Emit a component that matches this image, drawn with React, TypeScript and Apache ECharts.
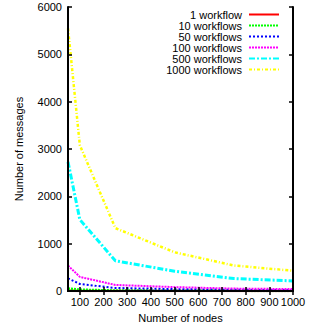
import React, { useEffect, useRef } from "react";
import * as echarts from "echarts";

const nodes = [50, 100, 250, 500, 750, 1000];
const seriesNames = ["1 workflow", "10 workflows", "50 workflows", "100 workflows", "500 workflows", "1000 workflows"];
const wf1 = [5, 3, 1.3, 0.8, 0.5, 0.4];
const wf10 = [55, 30, 13, 8, 5, 4];
const wf50 = [270, 150, 66, 42, 27, 22];
const wf100 = [540, 300, 130, 84, 53, 43];
const wf500 = [2730, 1510, 640, 420, 265, 215];
const wf1000 = [5550, 3080, 1330, 820, 540, 430];
const xTicks = [100, 200, 300, 400, 500, 600, 700, 800, 900, 1000];

const colors = ["#ff0000", "#00ff00", "#0000ff", "#ff00ff", "#00ffff", "#ffff00"];
const dashes: any[] = ["solid", [2, 1], [2, 2], [2, 1], [6, 2, 2, 2], [3, 2, 1, 2]];
const widths = [2.5, 2.5, 2, 2, 3, 2.5];
const values = [wf1, wf10, wf50, wf100, wf500, wf1000];

const FONT = "'Liberation Sans', Arial, sans-serif";
const FS = 11;

export default function App() {
  const ref = useRef<HTMLDivElement>(null);
  useEffect(() => {
    const chart = echarts.init(ref.current!, null, { renderer: "svg" });
    const axisLine = { show: true, lineStyle: { color: "#000", width: 2 } };
    const tickIn = { show: true, inside: true, length: 4, lineStyle: { color: "#000", width: 1.5 } };
    const fmt = (v: number) => String(v);
    chart.setOption({
      animation: false,
      grid: { left: 68, right: 19, top: 7, bottom: 36 },
      legend: {
        orient: "vertical",
        right: 32,
        top: 9,
        padding: 0,
        align: "right",
        itemWidth: 30,
        itemHeight: 11,
        itemGap: 0,
        itemStyle: { opacity: 0 },
        data: seriesNames.map((n) => ({ name: n })),
        formatter: (n: string) => `{a|${n}}`,
        textStyle: {
          rich: {
            a: { width: 110, align: "right", fontSize: FS, lineHeight: 11, fontFamily: FONT, color: "#000", padding: [0, 2, 0, 0] },
          },
        },
      },
      xAxis: [
        {
          type: "value",
          min: 50,
          max: 1000,
          z: 5,
          name: "Number of nodes",
          nameLocation: "middle",
          nameGap: 19,
          nameTextStyle: { fontSize: FS, fontFamily: FONT, color: "#000" },
          axisLine,
          axisTick: { ...tickIn, customValues: xTicks },
          axisLabel: { customValues: xTicks, fontSize: FS, fontFamily: FONT, color: "#000", margin: 5, formatter: fmt },
          splitLine: { show: false },
        },
        {
          type: "value",
          position: "top",
          min: 50,
          max: 1000,
          z: 5,
          axisLine,
          axisTick: { ...tickIn, customValues: xTicks },
          axisLabel: { show: false },
          splitLine: { show: false },
        },
      ],
      yAxis: [
        {
          type: "value",
          min: 0,
          max: 6000,
          interval: 1000,
          z: 5,
          name: "Number of messages",
          nameLocation: "middle",
          nameGap: 44,
          nameTextStyle: { fontSize: FS, fontFamily: FONT, color: "#000" },
          axisLine,
          axisTick: tickIn,
          axisLabel: { fontSize: FS, fontFamily: FONT, color: "#000", margin: 6, formatter: fmt },
          splitLine: { show: false },
        },
        {
          type: "value",
          position: "right",
          min: 0,
          max: 6000,
          interval: 1000,
          z: 5,
          axisLine,
          axisTick: tickIn,
          axisLabel: { show: false },
          splitLine: { show: false },
        },
      ],
      series: seriesNames.map((name, i) => ({
        name,
        type: "line",
        data: nodes.map((x, j) => [x, values[i][j]]),
        showSymbol: false,
        symbol: "none",
        color: colors[i],
        lineStyle: { color: colors[i], width: widths[i], type: dashes[i] },
        z: 2,
      })),
    });
    return () => chart.dispose();
  }, []);
  return <div ref={ref} style={{ position: "absolute", left: 0, top: 0, width: 312, height: 328 }} />;
}
